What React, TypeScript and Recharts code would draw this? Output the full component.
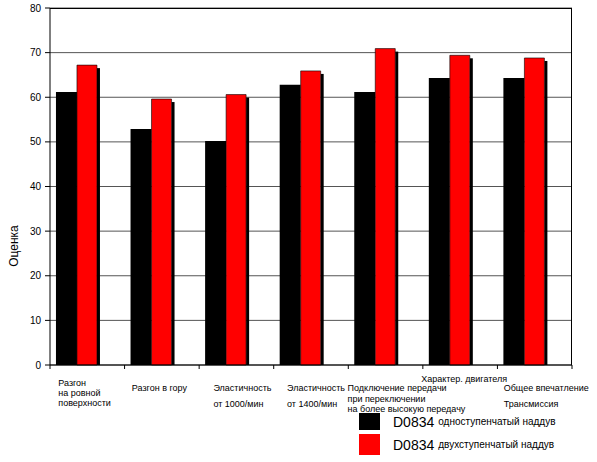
import { Bar, BarChart, CartesianGrid, Rectangle, XAxis, YAxis } from 'recharts'

const categories = ['accel_flat', 'accel_hill', 'elast_1000', 'elast_1400', 'gear_up', 'engine', 'overall']
const categoryLabels: string[][] = [
  ['Разгон', 'на  ровной', 'поверхности'],
  ['Разгон в гору'],
  ['Эластичность', 'от 1000/мин'],
  ['Эластичность', 'от 1400/мин'],
  ['Подключение передачи', 'при переключении', 'на более высокую передачу'],
  ['Характер. двигателя'],
  ['Общее впечатление', 'Трансмиссия'],
]
const singleStage = [61.2, 52.9, 50.2, 62.8, 61.2, 64.3, 64.3]
const twoStage = [67.2, 59.6, 60.6, 65.9, 70.9, 69.4, 68.8]
const yTicks = [0, 10, 20, 30, 40, 50, 60, 70, 80]

const seriesNames = ['D0834', 'D0834']
const seriesNotes = ['одноступенчатый наддув', 'двухступенчатый наддув']

const data = categories.map((c, i) => ({
  c,
  a: singleStage[i],
  b: twoStage[i],
  gap: null,
}))

const FONT = 'Arial, "Liberation Sans", sans-serif'

// where each label block sits relative to the tick centre: [dx, first line y, line gap]
const labelLayout: [number, number, number][] = [
  [-29, 383, 10],
  [-30, 388, 16],
  [-23, 388, 16],
  [-24, 388, 16],
  [-38, 388, 10.5],
  [-39, 379, 10],
  [-31, 388, 16],
]

function CategoryTick(props: any) {
  const { x, payload, index } = props
  const lines = categoryLabels[index] || []
  const [dx, y0, gap] = labelLayout[index] || [0, 388, 12]
  const half = payload.offset || 0
  return (
    <g>
      <line x1={x - half} x2={x - half} y1={365} y2={369} stroke="#000" />
      {index === categories.length - 1 && (
        <line x1={x + half} x2={x + half} y1={365} y2={369} stroke="#000" />
      )}
      {lines.map((t, i) => (
        <text key={i} x={x + dx} y={y0 + i * gap} dy="0.35em" fontSize={9} fontFamily={FONT} fill="#000">
          {t}
        </text>
      ))}
    </g>
  )
}

function ShadowBar(props: any) {
  const { x, y, width, height, fill } = props
  if (!height) return null
  return (
    <g>
      <rect x={x + width - 1} y={y + 3} width={3} height={height - 3} fill="#000" />
      <Rectangle x={x} y={y} width={width - 1} height={height} fill={fill} stroke="#000" strokeWidth={0.6} />
    </g>
  )
}

export default function App() {
  return (
    <div style={{ position: 'relative', width: 597, height: 462, background: '#fff', fontFamily: FONT }}>
      <style>{'body{margin:0}'}</style>
      <BarChart
        width={597}
        height={462}
        data={data}
        margin={{ top: 8, right: 25, bottom: 0, left: 0 }}
        barCategoryGap="8%"
        barGap={0}
      >
        <CartesianGrid vertical={false} stroke="#555" strokeWidth={1} />
        <XAxis
          dataKey="c"
          height={97}
          interval={0}
          tickLine={false}
          axisLine={{ stroke: '#000' }}
          tick={<CategoryTick />}
        />
        <YAxis
          width={50}
          domain={[0, 80]}
          ticks={yTicks}
          interval={0}
          tickSize={5}
          tickMargin={4}
          axisLine={{ stroke: '#000' }}
          tickLine={{ stroke: '#000' }}
          tick={{ fontSize: 10, fill: '#000', fontFamily: FONT }}
        />
        <Bar dataKey="a" fill="#000" isAnimationActive={false} />
        <Bar dataKey="b" fill="#ff0000" shape={<ShadowBar />} isAnimationActive={false} />
        <Bar dataKey="gap" fill="none" isAnimationActive={false} />
      </BarChart>
      {/* plot frame top / right */}
      <div style={{ position: 'absolute', left: 50, top: 8, width: 522, height: 357, borderTop: '1px solid #000', borderRight: '1px solid #000', boxSizing: 'border-box', pointerEvents: 'none' }} />
      <div
        style={{
          position: 'absolute',
          left: 14,
          top: 246,
          transform: 'translate(-50%, -50%) rotate(-90deg)',
          fontSize: 12,
          whiteSpace: 'nowrap',
        }}
      >
        Оценка
      </div>
      {seriesNames.map((n, i) => (
        <div
          key={i}
          style={{ position: 'absolute', left: 359, top: i === 0 ? 413 : 434, height: i === 0 ? 17 : 21, display: 'flex', alignItems: 'center' }}
        >
          <div style={{ width: 21, height: i === 0 ? 17 : 21, background: i === 0 ? '#000' : '#ff0000', marginRight: 13 }} />
          <span style={{ fontSize: 14 }}>{n}</span>
          <span style={{ fontSize: 10, marginLeft: 4 }}>{seriesNotes[i]}</span>
        </div>
      ))}
    </div>
  )
}
